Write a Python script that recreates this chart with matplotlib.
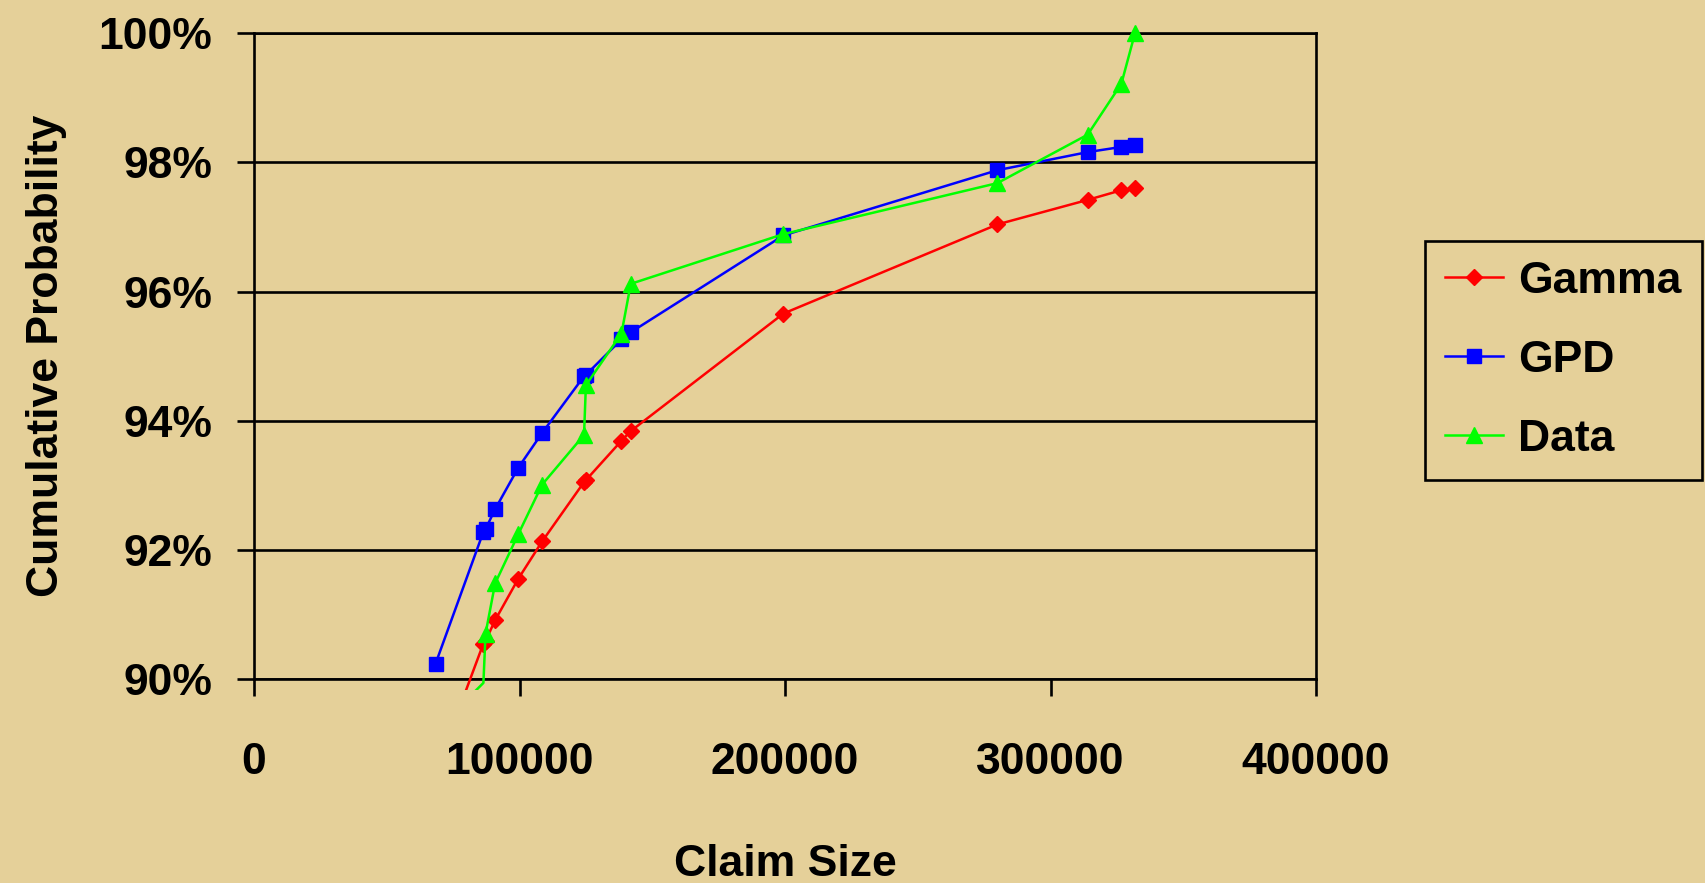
"""
Cumulative probability of large claims: fitted Gamma and GPD against the data
"""
import matplotlib
matplotlib.use("Agg")
import matplotlib.pyplot as plt
from matplotlib.patches import Rectangle

# claim sizes shared by all three curves
claim_size = [68400, 86400, 87200, 90800, 99500, 108500, 124300, 125000,
              138400, 141900, 199400, 280000, 314000, 326700, 331800]

# cumulative probability in percent
gamma = [88.56, 90.55, 90.59, 90.91, 91.55, 92.13, 93.05, 93.08,
         93.69, 93.84, 95.66, 97.04, 97.42, 97.57, 97.60]
gpd = [90.24, 92.28, 92.32, 92.63, 93.27, 93.81, 94.69, 94.71,
       95.26, 95.37, 96.87, 97.88, 98.16, 98.24, 98.27]
data = [89.20, 89.94, 90.70, 91.48, 92.24, 93.01, 93.78, 94.55,
        95.35, 96.12, 96.89, 97.68, 98.43, 99.22, 100.0]

y_ticks = [90, 92, 94, 96, 98, 100]
x_ticks = [0, 100000, 200000, 300000, 400000]

BG = "#E5D099"
FS = 32

plt.rcParams["font.family"] = ["Liberation Sans", "DejaVu Sans"]
plt.rcParams["font.weight"] = "bold"

fig = plt.figure(figsize=(17.06, 8.83), dpi=100, facecolor=BG)
ax = fig.add_axes([0.1489, 0.2310, 0.6225, 0.7313], facecolor=BG)

series = [
    (gamma, "Gamma", "#FF0000", "D", 8.5),
    (gpd, "GPD", "#0000FF", "s", 10),
    (data, "Data", "#00FF00", "^", 11.5),
]

# lines run a little below the 90% floor, markers only inside the range
clip = Rectangle((-0.02, -0.017), 1.04, 1.06, transform=ax.transAxes)
for ys, name, col, mk, ms in series:
    shown = [i for i, v in enumerate(ys) if v >= 90]
    ln, = ax.plot(claim_size, ys, color=col, lw=1.8, marker=mk, ms=ms,
                  mec=col, mfc=col, markevery=shown, label=name, zorder=3)
    ln.set_clip_path(clip)

ax.set_xlim(0, 400000)
ax.set_ylim(90, 100)
ax.set_xticks(x_ticks)
ax.set_xticklabels([str(v) for v in x_ticks])
ax.set_yticks(y_ticks)
ax.set_yticklabels([f"{v}%" for v in y_ticks])

ax.yaxis.grid(True, color="black", lw=1.9)
ax.set_axisbelow(True)
for side in ["left", "top", "right", "bottom"]:
    ax.spines[side].set_linewidth(1.9)
    ax.spines[side].set_color("black")

ax.tick_params(axis="both", direction="out", length=12, width=1.9,
               labelsize=FS, colors="black")
ax.tick_params(axis="y", pad=18)
ax.tick_params(axis="x", pad=33)

ax.set_xlabel("Claim Size", fontsize=FS, fontweight="bold", labelpad=44)
ax.set_ylabel("Cumulative Probability", fontsize=FS, fontweight="bold", labelpad=23)

leg = fig.legend(loc="upper left", bbox_to_anchor=(0.8353, 0.7276),
                 fontsize=FS, frameon=True, fancybox=False, edgecolor="black",
                 facecolor=BG, framealpha=1, handlelength=1.3,
                 handletextpad=0.35, labelspacing=0.86, borderpad=0.45,
                 borderaxespad=0)
leg.get_frame().set_linewidth(1.9)

fig.savefig("out.png", dpi=100, facecolor=BG)
